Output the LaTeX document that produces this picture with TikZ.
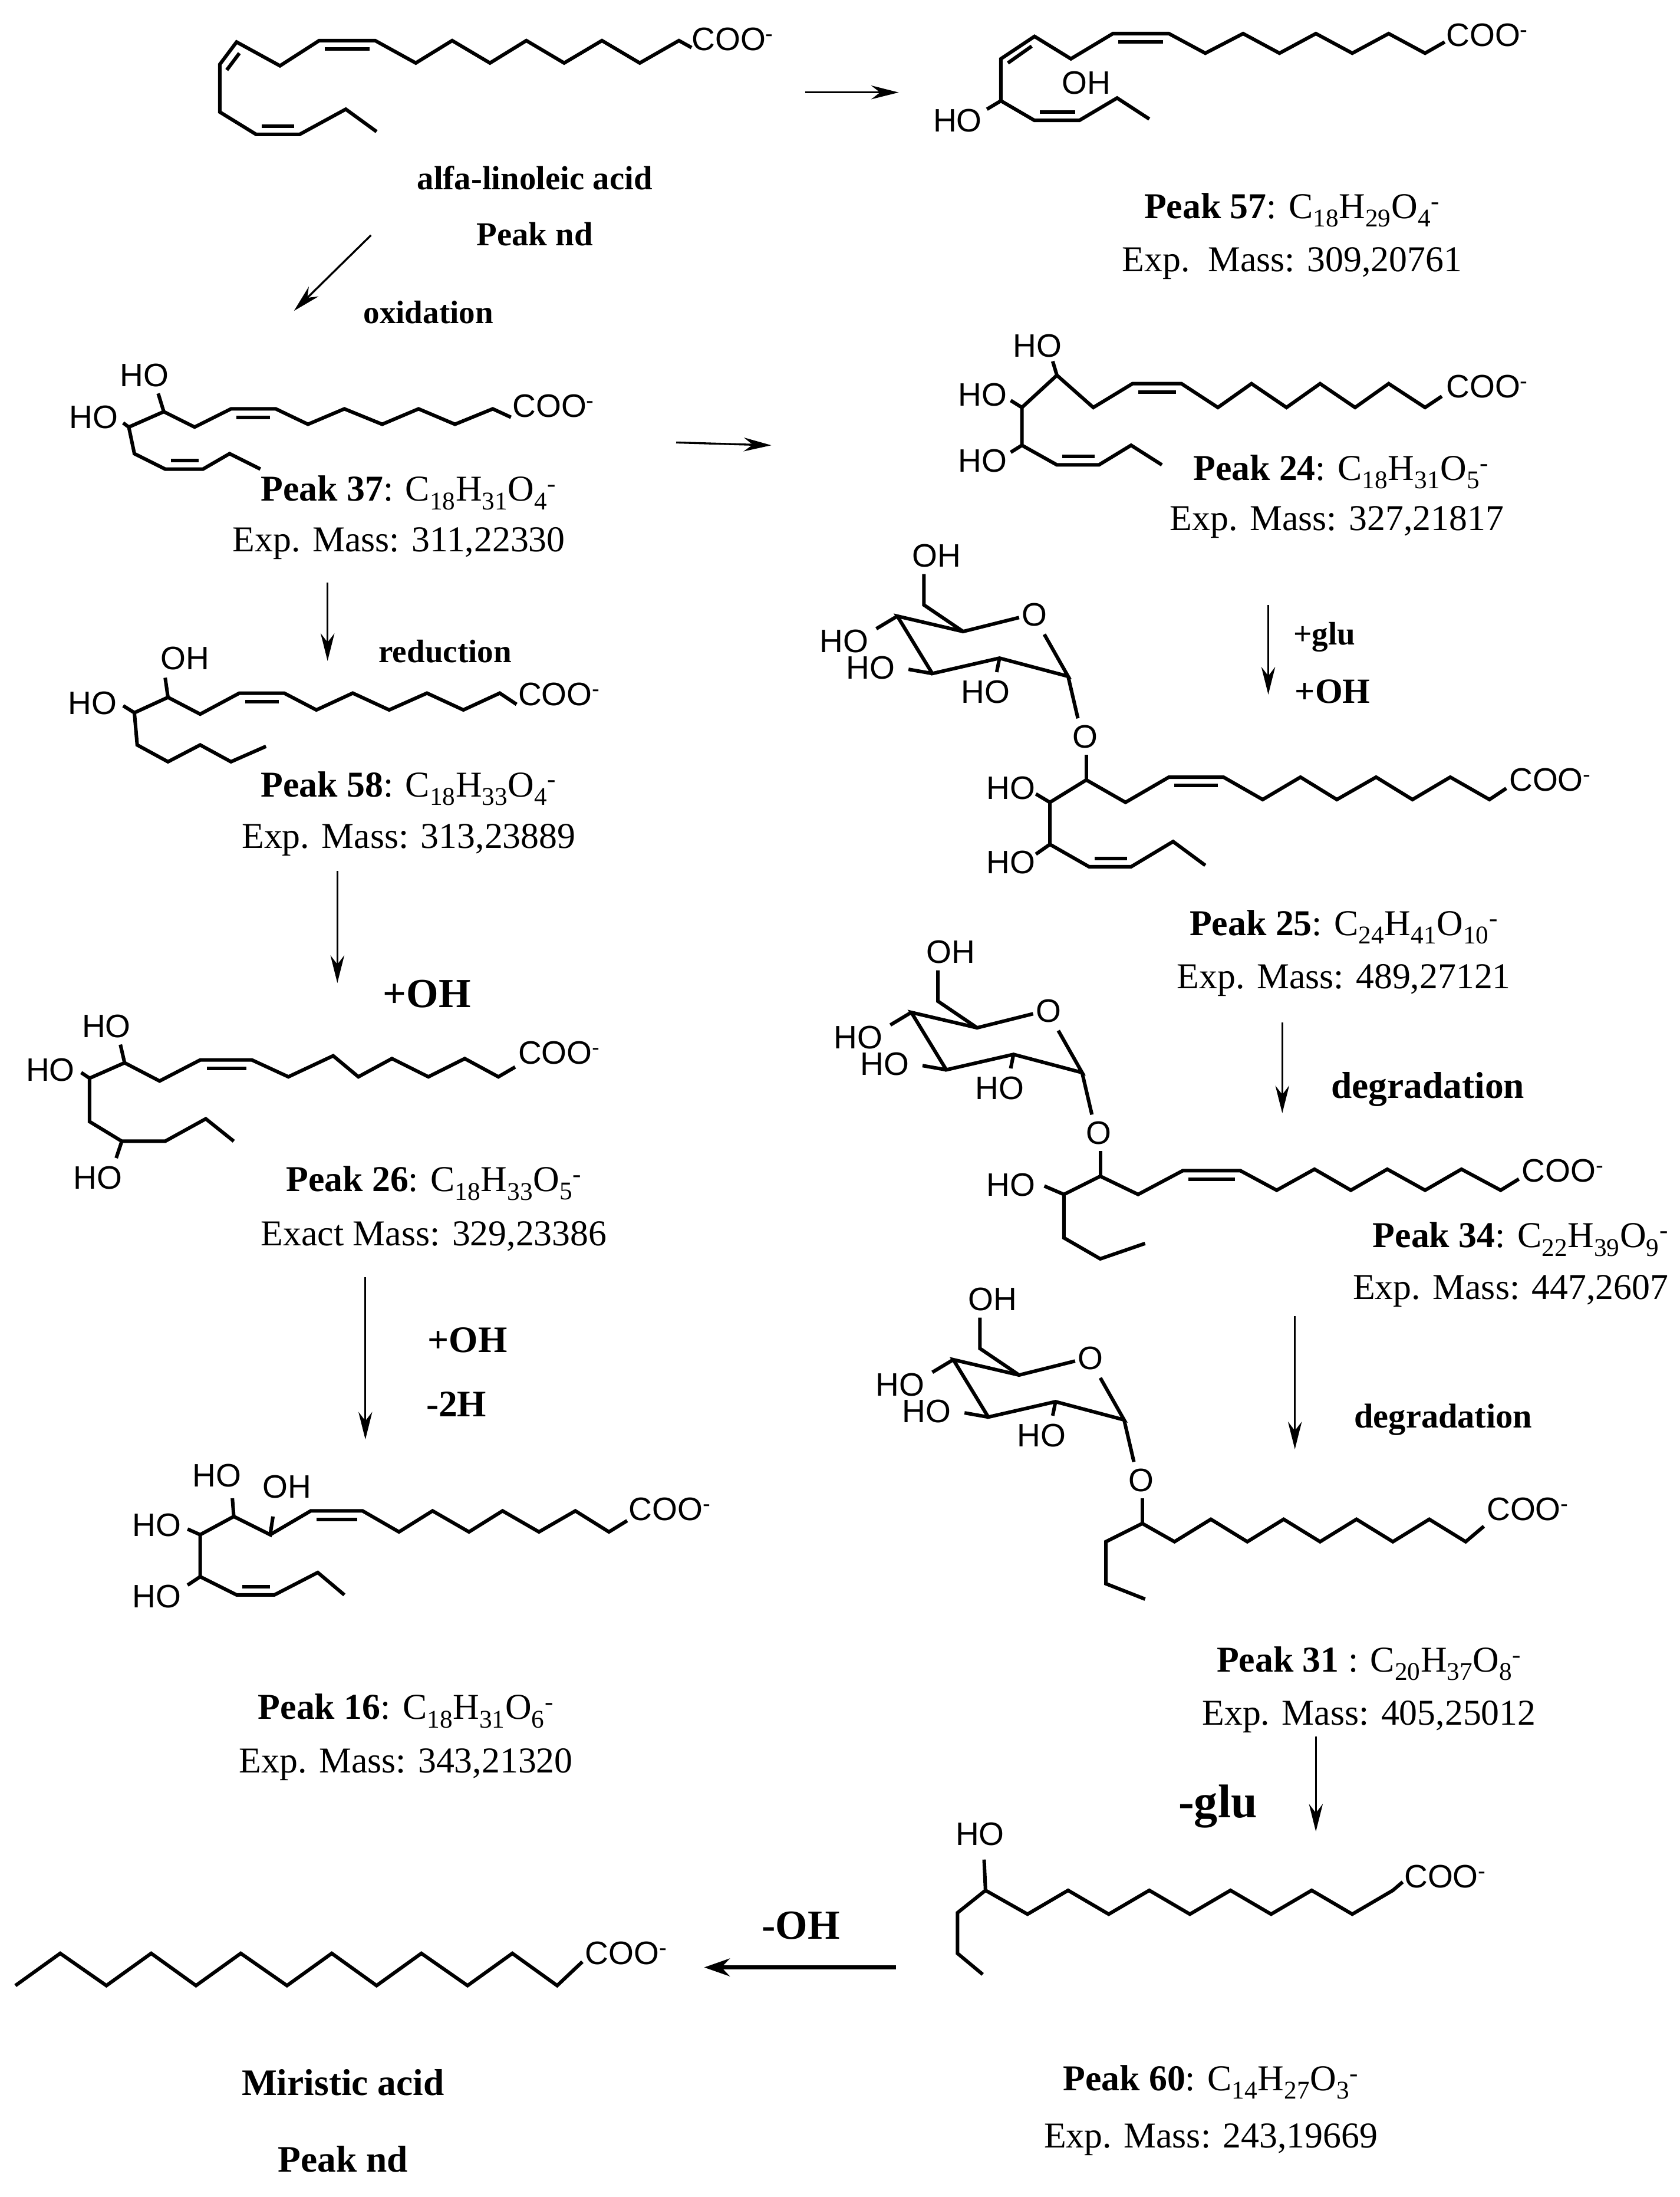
\documentclass[tikz,border=0pt]{standalone}
\usepackage{fontspec}
\setmainfont{Liberation Serif}
\newfontfamily\hv{Liberation Sans}
\usetikzlibrary{arrows.meta}
\newcommand\ch[3]{C\textsubscript{#1}H\textsubscript{#2}O\textsubscript{#3}\textsuperscript{-}}
\begin{document}
\begin{tikzpicture}[x=0.05cm,y=-0.05cm,
  bond/.style={line width=3.6pt,line join=miter,line cap=butt},
  atom/.style={font=\hv\fontsize{33}{36}\selectfont,inner sep=0pt},
  coo/.style={atom,anchor=west},
  lbl/.style={font=\fontsize{37}{42}\selectfont,inner sep=0pt},
  stepl/.style={font=\bfseries\fontsize{33}{36}\selectfont,inner sep=0pt},
  big/.style={font=\bfseries\fontsize{42}{46}\selectfont,inner sep=0pt},
  arr/.style={line width=2pt,-{Stealth[length=28pt,width=14pt]}},
  thk/.style={line width=3.8pt,-{Stealth[length=26pt,width=18pt]}}]
\useasboundingbox (0,0) rectangle (1200,1569);
\newcommand\sugar[3]{%
 \begin{scope}[shift={(#1,#2)}]
  \draw[bond] (19,-30)--(19,-8)--(47,11)--(87,1);
  \draw[bond] (105,13)--(122,43)--(73,30)--(25,41)--(0,0)--(47,11);
  \draw[bond] (73,30)--(71,40);
  \draw[bond] (25,41)--(8,38);
  \draw[bond] (0,0)--(-15,9);
  \draw[bond] (122,43)--(129,73);
  \draw[bond] (135,99)--(135,117);
  \node[atom] (#3o) at (98,-1) {O};
  \node[atom] (#3oh) at (28,-43) {OH};
  \node[atom] (#3ha) at (-38,18) {HO};
  \node[atom] (#3hb) at (-19,37) {HO};
  \node[atom] (#3hc) at (63,54) {HO};
  \node[atom] (#3og) at (134,86) {O};
 \end{scope}}
% ---------- alfa-linoleic acid
\draw[bond] (269,94)--(247,78)--(214,96)--(183,96)--(157,80)--(157,46)--(169,30)--(200,47)--(228,29)--(268,29)--(297,45)--(323,29)--(350,45)--(376,29)--(403,45)--(430,29)--(457,45)--(485,29)--(494,34);
\draw[bond] (162,50)--(171,38);
\draw[bond] (232,35)--(264,35);
\draw[bond] (187,90)--(210,90);
\node[coo] (c1) at (494,28) {COO\textsuperscript{-}};
\node[lbl,font=\bfseries\fontsize{34}{36}\selectfont] (n1) at (382,127) {alfa-linoleic acid};
\node[lbl,font=\bfseries\fontsize{34}{36}\selectfont] (n1b) at (382,167) {Peak nd};
\coordinate (a1s) at (575,66); \coordinate (a1e) at (642,66);
\draw[arr] (a1s)--(a1e);
\coordinate (a2s) at (265,168); \coordinate (a2e) at (210,222);
\draw[arr] (a2s)--(a2e);
\node[stepl] (ox) at (306,223) {oxidation};
% ---------- Peak 57
\draw[bond] (715,72)--(715,42)--(739,26)--(765,42)--(795,24)--(835,24)--(861,38)--(888,24)--(914,38)--(940,24)--(966,38)--(992,24)--(1018,38)--(1032,30);
\draw[bond] (720,45)--(737,33);
\draw[bond] (799,30)--(831,30);
\draw[bond] (715,72)--(739,86)--(771,86)--(798,70)--(821,85);
\draw[bond] (743,80)--(768,80);
\draw[bond] (715,72)--(705,78);
\node[atom] (p57oh) at (776,59) {OH};
\node[atom] (p57ho) at (684,86) {HO};
\node[coo] (c57) at (1033,25) {COO\textsuperscript{-}};
\node[lbl] (l57) at (923,150) {\textbf{Peak 57}: \ch{18}{29}{4}};
\node[lbl] (m57) at (923,188) {Exp.\ \ Mass: 309,20761};
% ---------- Peak 37
\draw[bond] (113,281)--(117,294)--(139,305)--(165,292)--(197,292)--(220,303)--(246,292)--(273,303)--(299,292)--(325,303)--(352,292)--(365,298);
\draw[bond] (169,298)--(193,298);
\draw[bond] (88,302)--(92,305)--(117,294);
\draw[bond] (92,305)--(96,324)--(118,335)--(145,335)--(164,324)--(186,335);
\draw[bond] (122,329)--(142,329);
\node[atom] (p37a) at (103,268) {HO};
\node[atom] (p37b) at (67,298) {HO};
\node[coo] (c37) at (366,290) {COO\textsuperscript{-}};
\node[lbl] (l37) at (292,352) {\textbf{Peak 37}: \ch{18}{31}{4}};
\node[lbl] (m37) at (285,388) {Exp. Mass: 311,22330};
\coordinate (a3s) at (483,316); \coordinate (a3e) at (551,318);
\draw[arr] (a3s)--(a3e);
\coordinate (a4s) at (234,416); \coordinate (a4e) at (234,472);
\draw[arr] (a4s)--(a4e);
\node[stepl] (red) at (318,465) {reduction};
% ---------- Peak 58
\draw[bond] (118,484)--(120,498)--(143,510)--(171,495)--(203,495)--(226,507)--(252,495)--(278,507)--(305,495)--(331,507)--(357,495)--(369,503);
\draw[bond] (175,501)--(199,501);
\draw[bond] (88,504)--(96,509)--(120,498);
\draw[bond] (96,509)--(98,532)--(120,544)--(143,532)--(165,544)--(190,533);
\node[atom] (p58a) at (132,470) {OH};
\node[atom] (p58b) at (66,502) {HO};
\node[coo] (c58) at (370,496) {COO\textsuperscript{-}};
\node[lbl] (l58) at (292,563) {\textbf{Peak 58}: \ch{18}{33}{4}};
\node[lbl] (m58) at (292,600) {Exp. Mass: 313,23889};
\coordinate (a5s) at (241,622); \coordinate (a5e) at (241,702);
\draw[arr] (a5s)--(a5e);
\node[big] (oh1) at (305,710) {+OH};
% ---------- Peak 26
\draw[bond] (86,746)--(89,759)--(114,772)--(143,757)--(180,757)--(206,769)--(238,754)--(256,769)--(280,756)--(306,769)--(332,756)--(356,769)--(368,762);
\draw[bond] (148,763)--(176,763);
\draw[bond] (58,766)--(64,770)--(89,759);
\draw[bond] (64,770)--(64,801)--(87,815)--(118,815)--(147,799)--(167,815);
\draw[bond] (87,815)--(83,827);
\node[atom] (p26a) at (76,733) {HO};
\node[atom] (p26b) at (36,764) {HO};
\node[atom] (p26c) at (70,841) {HO};
\node[coo] (c26) at (370,752) {COO\textsuperscript{-}};
\node[lbl] (l26) at (310,845) {\textbf{Peak 26}: \ch{18}{33}{5}};
\node[lbl] (m26) at (310,883) {Exact Mass: 329,23386};
\coordinate (a6s) at (261,912); \coordinate (a6e) at (261,1028);
\draw[arr] (a6s)--(a6e);
\node[big,font=\bfseries\fontsize{38}{40}\selectfont] (oh2) at (334,957) {+OH};
\node[big,font=\bfseries\fontsize{38}{40}\selectfont] (h2) at (326,1003) {-2H};
% ---------- Peak 16
\draw[bond] (166,1070)--(167,1083)--(193,1096)--(195,1083);
\draw[bond] (193,1096)--(222,1079)--(259,1079)--(285,1094)--(309,1079)--(335,1094)--(359,1079)--(385,1094)--(411,1079)--(435,1094)--(448,1086);
\draw[bond] (226,1085)--(255,1085);
\draw[bond] (134,1092)--(143,1096)--(167,1083);
\draw[bond] (143,1096)--(143,1126)--(169,1139)--(196,1139)--(227,1123)--(246,1139);
\draw[bond] (143,1126)--(134,1132);
\draw[bond] (173,1133)--(193,1133);
\node[atom] (p16a) at (155,1054) {HO};
\node[atom] (p16b) at (205,1062) {OH};
\node[atom] (p16c) at (112,1089) {HO};
\node[atom] (p16d) at (112,1140) {HO};
\node[coo] (c16) at (449,1078) {COO\textsuperscript{-}};
\node[lbl] (l16) at (290,1222) {\textbf{Peak 16}: \ch{18}{31}{6}};
\node[lbl] (m16) at (290,1260) {Exp. Mass: 343,21320};
% ---------- Peak 24
\draw[bond] (752,258)--(755,268)--(781,291)--(809,274)--(844,274)--(870,291)--(894,274)--(919,291)--(943,274)--(968,291)--(992,274)--(1018,291)--(1030,283);
\draw[bond] (813,280)--(840,280);
\draw[bond] (722,286)--(730,291)--(755,268);
\draw[bond] (730,291)--(730,318)--(755,332)--(785,332)--(808,318)--(830,332);
\draw[bond] (730,318)--(722,323);
\draw[bond] (759,326)--(782,326);
\node[atom] (p24a) at (741,247) {HO};
\node[atom] (p24b) at (702,282) {HO};
\node[atom] (p24c) at (702,329) {HO};
\node[coo] (c24) at (1033,276) {COO\textsuperscript{-}};
\node[lbl] (l24) at (958,337) {\textbf{Peak 24}: \ch{18}{31}{5}};
\node[lbl] (m24) at (955,373) {Exp. Mass: 327,21817};
\coordinate (a7s) at (906,432); \coordinate (a7e) at (906,496);
\draw[arr] (a7s)--(a7e);
\node[stepl] (glu) at (946,455) {+glu};
\node[stepl,font=\bfseries\fontsize{36}{38}\selectfont] (oh3) at (952,494) {+OH};
% ---------- Peak 25
\sugar{641}{440}{s25}
\draw[bond] (776,557)--(804,573)--(835,555)--(874,555)--(902,571)--(929,555)--(955,571)--(983,555)--(1009,571)--(1036,555)--(1064,571)--(1076,563);
\draw[bond] (839,561)--(870,561);
\draw[bond] (740,567)--(750,573)--(776,557);
\draw[bond] (750,573)--(750,603)--(778,619)--(808,619)--(838,601)--(861,618);
\draw[bond] (750,603)--(740,610);
\draw[bond] (782,613)--(805,613);
\node[atom] (p25a) at (722,563) {HO};
\node[atom] (p25b) at (722,616) {HO};
\node[coo] (c25) at (1078,557) {COO\textsuperscript{-}};
\node[lbl] (l25) at (960,662) {\textbf{Peak 25}: C\textsubscript{24}H\textsubscript{41}O\textsubscript{10}\textsuperscript{-}};
\node[lbl] (m25) at (960,700) {Exp. Mass: 489,27121};
\coordinate (a8s) at (916,730); \coordinate (a8e) at (916,795);
\draw[arr] (a8s)--(a8e);
\node[stepl,font=\bfseries\fontsize{38}{40}\selectfont] (deg1) at (1020,778) {degradation};
% ---------- Peak 34
\sugar{651}{723}{s34}
\draw[bond] (786,840)--(813,853)--(845,836)--(886,836)--(912,850)--(939,835)--(965,850)--(991,835)--(1018,850)--(1044,835)--(1072,850)--(1085,842);
\draw[bond] (849,842)--(882,842);
\draw[bond] (746,847)--(760,853)--(786,840);
\draw[bond] (760,853)--(760,884)--(786,899)--(818,888);
\node[atom] (p34a) at (722,846) {HO};
\node[coo] (c34) at (1087,836) {COO\textsuperscript{-}};
\node[lbl,anchor=east] (l34) at (1192,885) {\textbf{Peak 34}: C\textsubscript{22}H\textsubscript{39}O\textsubscript{9}\textsuperscript{-}};
\node[lbl,anchor=east] (m34) at (1192,922) {Exp. Mass: 447,2607};
\coordinate (a9s) at (925,940); \coordinate (a9e) at (925,1035);
\draw[arr] (a9s)--(a9e);
\node[stepl,font=\bfseries\fontsize{35}{38}\selectfont] (deg2) at (1031,1014) {degradation};
% ---------- Peak 31
\sugar{681}{971}{s31}
\draw[bond] (816,1088)--(839,1101)--(865,1085)--(891,1101)--(917,1085)--(943,1101)--(969,1085)--(995,1101)--(1021,1085)--(1047,1101)--(1060,1090);
\draw[bond] (816,1088)--(790,1101)--(790,1131)--(818,1142);
\node[coo] (c31) at (1062,1078) {COO\textsuperscript{-}};
\node[lbl] (l31) at (978,1188) {\textbf{Peak 31} : \ch{20}{37}{8}};
\node[lbl] (m31) at (978,1226) {Exp. Mass: 405,25012};
\coordinate (a10s) at (940,1240); \coordinate (a10e) at (940,1308);
\draw[arr] (a10s)--(a10e);
\node[big,font=\bfseries\fontsize{48}{50}\selectfont] (mglu) at (870,1290) {-glu};
% ---------- Peak 60
\draw[bond] (703,1328)--(704,1350)--(734,1367)--(763,1350)--(792,1367)--(821,1350)--(850,1367)--(879,1350)--(908,1367)--(937,1350)--(966,1367)--(995,1350)--(1002,1344);
\draw[bond] (704,1350)--(684,1366)--(684,1395)--(702,1410);
\node[atom] (p60a) at (700,1310) {HO};
\node[coo] (c60) at (1003,1340) {COO\textsuperscript{-}};
\node[lbl] (l60) at (865,1487) {\textbf{Peak 60}: \ch{14}{27}{3}};
\node[lbl] (m60) at (865,1528) {Exp. Mass: 243,19669};
\coordinate (a11s) at (640,1405); \coordinate (a11e) at (503,1405);
\draw[thk] (a11s)--(a11e);
\node[big] (moh) at (572,1375) {-OH};
% ---------- Miristic acid
\draw[bond] (11,1418)--(43,1395)--(76,1418)--(108,1395)--(140,1418)--(172,1395)--(205,1418)--(237,1395)--(269,1418)--(301,1395)--(334,1418)--(366,1395)--(398,1418)--(416,1401);
\node[coo] (cm) at (418,1395) {COO\textsuperscript{-}};
\node[lbl,font=\bfseries\fontsize{38}{40}\selectfont] (lm) at (245,1487) {Miristic acid};
\node[lbl,font=\bfseries\fontsize{38}{40}\selectfont] (mm) at (245,1542) {Peak nd};
\end{tikzpicture}
\end{document}
